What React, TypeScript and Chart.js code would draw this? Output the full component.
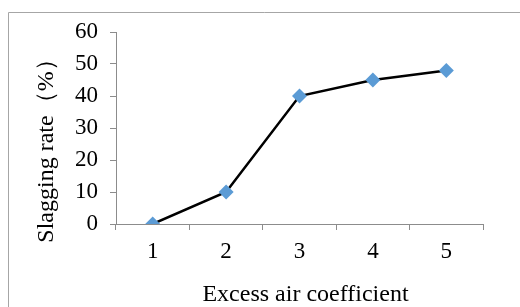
import React, { useEffect, useRef } from "react";
import { Chart, registerables } from "chart.js";

Chart.register(...registerables);

const categories = ["1", "2", "3", "4", "5"];
const slaggingRate = [0, 10, 40, 45, 48];
const yTicks = [0, 10, 20, 30, 40, 50, 60];
const xTitle = "Excess air coefficient";
const yTitle = "Slagging rate（%）";

const FONT = "'Liberation Serif', 'Times New Roman', serif";
const AXIS_COLOR = "#8c8c8c";

const frameAndTitles = {
  id: "frameAndTitles",
  beforeDraw(chart: any) {
    const ctx = chart.ctx;
    ctx.save();
    ctx.strokeStyle = "#a6a6a6";
    ctx.lineWidth = 1;
    ctx.beginPath();
    ctx.moveTo(8.5, 307);
    ctx.lineTo(8.5, 12.5);
    ctx.lineTo(520, 12.5);
    ctx.stroke();
    ctx.restore();
  },
  afterDraw(chart: any) {
    const ctx = chart.ctx;
    const area = chart.chartArea;
    ctx.save();
    ctx.fillStyle = "#000";
    ctx.font = `24px ${FONT}`;
    ctx.textAlign = "center";
    ctx.textBaseline = "middle";
    ctx.fillText(xTitle, (area.left + area.right) / 2 + 6, area.bottom + 71);
    ctx.translate(47, (area.top + area.bottom) / 2 + 17);
    ctx.rotate(-Math.PI / 2);
    ctx.fillText(yTitle, 0, 0);
    ctx.restore();
  },
};

export default function App() {
  const ref = useRef<HTMLCanvasElement>(null);
  useEffect(() => {
    if (!ref.current) return;
    const chart = new Chart(ref.current, {
      type: "line",
      data: {
        labels: categories,
        datasets: [
          {
            data: slaggingRate,
            borderColor: "#000000",
            borderWidth: 2.5,
            tension: 0,
            pointStyle: "rectRot",
            pointRadius: 7.5,
            pointBackgroundColor: "#5B9BD5",
            pointBorderColor: "#5B9BD5",
            pointBorderWidth: 0,
          },
        ],
      },
      options: {
        responsive: false,
        animation: false,
        layout: { padding: { top: 32, right: 37, bottom: 0, left: 0 } },
        plugins: {
          legend: { display: false },
          tooltip: { enabled: false },
        },
        scales: {
          x: {
            type: "category",
            offset: true,
            afterFit(scale: any) {
              scale.height = 83;
            },
            grid: {
              offset: true,
              drawOnChartArea: false,
              drawTicks: true,
              tickLength: 6,
              color: AXIS_COLOR,
            },
            border: { display: true, color: AXIS_COLOR, width: 1 },
            ticks: {
              color: "#000",
              font: { family: FONT, size: 23 },
              padding: 8,
              maxRotation: 0,
            },
          },
          y: {
            min: 0,
            max: 60,
            afterFit(scale: any) {
              scale.width = 116;
            },
            afterBuildTicks(scale: any) {
              scale.ticks = yTicks.map((v) => ({ value: v }));
            },
            grid: {
              drawOnChartArea: false,
              drawTicks: true,
              tickLength: 6,
              color: AXIS_COLOR,
            },
            border: { display: true, color: AXIS_COLOR, width: 1 },
            ticks: {
              color: "#000",
              font: { family: FONT, size: 23 },
              padding: 12,
            },
          },
        },
      },
      plugins: [frameAndTitles],
    });
    return () => chart.destroy();
  }, []);
  return (
    <div style={{ position: "fixed", left: 0, top: 0, width: 520, height: 307, background: "#fff" }}>
      <canvas ref={ref} width={520} height={307} style={{ display: "block" }} />
    </div>
  );
}
